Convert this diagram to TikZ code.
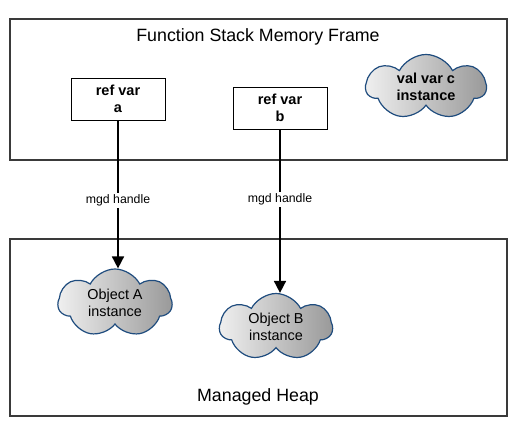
\documentclass[tikz,border=0pt]{standalone}
\usepackage{fontspec}
\setmainfont{Liberation Sans}
\usepackage{tikz}
\usetikzlibrary{positioning,arrows.meta,shapes.symbols}
\definecolor{framegrey}{HTML}{3A3A3A}
\definecolor{cloudblue}{HTML}{1F4C7E}
\tikzset{
  mf/.style={align=center, inner sep=1pt},
  mf frame/.style={draw=framegrey, line width=1.4pt, fill=white},
  mf title/.style={mf, font=\fontsize{17.8}{20}\selectfont},
  mf ref/.style={mf, draw=black, line width=0.8pt, fill=white, minimum width=94pt, minimum height=42pt,
                 font=\bfseries\fontsize{14.5}{17}\selectfont},
  mf obj/.style={mf, cloud, cloud puffs=7, cloud puff arc=125, cloud ignores aspect, draw=cloudblue, line width=1.2pt,
                 left color=black!6, right color=black!40, font=\fontsize{14.4}{17}\selectfont},
  mf arr/.style={-{Triangle[length=12pt, width=12pt]}, line width=1.7pt, black},
  mf lab/.style={mf, fill=white, inner sep=1.5pt, font=\fontsize{12.3}{14}\selectfont},
}
\begin{document}
\begin{tikzpicture}[x=1pt, y=-1pt]
  \useasboundingbox (0,0) rectangle (517,435);
  % the two memory regions
  \node[mf frame, minimum width=497pt, minimum height=141pt] (stack) at (258.5,89.5) {};
  \node[mf frame, minimum width=497pt, minimum height=177pt] (heap) at (258.5,327.5) {};
  \node[mf title] (stacktitle) at (258,37) {Function Stack Memory Frame};
  \node[mf title] (heaptitle) at (258,397) {Managed Heap};
  % variables on the stack
  \node[mf ref] (a) at (118,99) {ref var\\a};
  \node[mf ref] (b) at (280,108) {ref var\\b};
  \node[mf obj, font=\bfseries\fontsize{14.5}{17}\selectfont, minimum width=120pt, minimum height=65pt] (c) at (426,87) {val var c\\instance};
  % objects on the heap
  \node[mf obj, minimum width=114pt, minimum height=68pt] (A) at (115,303) {Object A\\instance};
  \node[mf obj, minimum width=113pt, minimum height=67pt] (B) at (276,327) {Object B\\instance};
  \draw[mf arr] (a.south) -- (a.south |- A.north) node[mf lab, pos=0.54] {mgd handle};
  \draw[mf arr] (b.south) -- (b.south |- B.north) node[mf lab, pos=0.43] {mgd handle};
\end{tikzpicture}
\end{document}
